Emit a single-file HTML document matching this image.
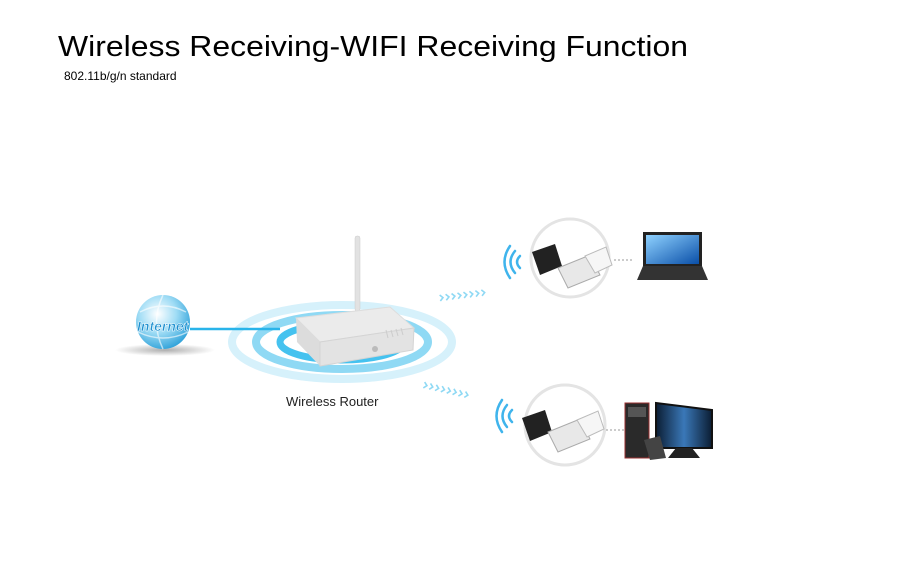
<!DOCTYPE html>
<html><head><meta charset="utf-8"><style>
html,body{margin:0;padding:0;background:#fff;width:900px;height:582px;overflow:hidden}
svg{display:block}
</style></head><body>
<svg width="900" height="582" viewBox="0 0 900 582" xmlns="http://www.w3.org/2000/svg" font-family="Liberation Sans, Arial, sans-serif">
<defs>
<radialGradient id="glob" cx="40%" cy="35%" r="70%"><stop offset="0" stop-color="#ffffff"/><stop offset="0.5" stop-color="#9fdcf5"/><stop offset="1" stop-color="#2a9fd8"/></radialGradient>
<linearGradient id="scr" x1="0" y1="0" x2="1" y2="1"><stop offset="0" stop-color="#8fd2ff"/><stop offset="1" stop-color="#0a4fa8"/></linearGradient>
<linearGradient id="mon" x1="0" y1="0" x2="1" y2="0"><stop offset="0" stop-color="#0b1d33"/><stop offset="0.5" stop-color="#3a78b8"/><stop offset="1" stop-color="#0b1d33"/></linearGradient>
<radialGradient id="shad" cx="50%" cy="50%" r="50%"><stop offset="0" stop-color="#777" stop-opacity=".6"/><stop offset="1" stop-color="#777" stop-opacity="0"/></radialGradient>
<g id="chev"><path d="M0 -3 L3 0 L0 3" fill="none" stroke="#8fd9f4" stroke-width="1.6"/></g>
</defs>
<text x="58" y="56" font-size="29" fill="#000" textLength="630" lengthAdjust="spacingAndGlyphs">Wireless Receiving-WIFI Receiving Function</text>
<text x="64" y="80" font-size="12" fill="#000">802.11b/g/n standard</text>

<ellipse cx="342" cy="342" rx="110" ry="37" fill="none" stroke="#d6f1fb" stroke-width="8"/>
<ellipse cx="342" cy="342" rx="86" ry="27" fill="none" stroke="#8fd9f4" stroke-width="8"/>
<ellipse cx="342" cy="342" rx="62" ry="18" fill="none" stroke="#45c2ef" stroke-width="7"/>
<ellipse cx="165" cy="350" rx="50" ry="6" fill="url(#shad)"/>
<circle cx="163" cy="322" r="27" fill="url(#glob)"/>
<path d="M140 312 Q163 300 186 312 M138 332 Q163 344 188 332 M163 295 Q150 322 163 349" fill="none" stroke="#fff" stroke-opacity=".6" stroke-width="1.5"/>
<text x="137" y="331" font-size="14" font-style="italic" font-weight="bold" fill="#1c8fcf" stroke="#fff" stroke-width=".5">Internet</text>
<line x1="190" y1="329" x2="280" y2="329" stroke="#29b4ea" stroke-width="2.5"/>
<rect x="355" y="236" width="5" height="75" rx="2" fill="#e2e2e2" stroke="#ccc" stroke-width=".5"/>
<polygon points="296,318 390,307 414,328 320,342" fill="#ebebeb" stroke="#ddd"/>
<polygon points="296,318 320,342 320,366 297,342" fill="#dcdcdc"/>
<polygon points="320,342 414,328 413,350 320,366" fill="#e3e3e3" stroke="#d4d4d4"/>
<circle cx="375" cy="349" r="3" fill="#bbb"/>
<g stroke="#ccc" stroke-width="1"><line x1="386" y1="330" x2="388" y2="338"/><line x1="391" y1="330" x2="393" y2="337"/><line x1="396" y1="329" x2="398" y2="336"/><line x1="401" y1="328" x2="403" y2="335"/></g>
<text x="286" y="406" font-size="13" fill="#222">Wireless Router</text>
<g transform="translate(440 298) rotate(-7)">
<use href="#chev" x="0"/><use href="#chev" x="6"/><use href="#chev" x="12"/><use href="#chev" x="18"/><use href="#chev" x="24"/><use href="#chev" x="30"/><use href="#chev" x="36"/><use href="#chev" x="42"/></g>
<g transform="translate(424 385) rotate(13)">
<use href="#chev" x="0"/><use href="#chev" x="6"/><use href="#chev" x="12"/><use href="#chev" x="18"/><use href="#chev" x="24"/><use href="#chev" x="30"/><use href="#chev" x="36"/><use href="#chev" x="42"/></g>
<circle cx="570" cy="258" r="39" fill="#fff" stroke="#e4e4e4" stroke-width="3"/>
<g fill="none" stroke="#3fb4ec" stroke-width="2.5" stroke-linecap="round">
<path d="M520 256 Q514 262 520 268"/><path d="M515 251 Q506 262 515 273"/><path d="M510 246 Q499 262 510 278"/></g>
<polygon points="532,252 555,244 562,266 540,275" fill="#222"/>
<polygon points="558,268 590,255 600,275 568,288" fill="#e8e8e8" stroke="#aaa"/>
<polygon points="585,256 606,247 612,265 595,273" fill="#f6f6f6" stroke="#bbb"/>
<line x1="614" y1="260" x2="632" y2="260" stroke="#999" stroke-dasharray="2 2"/>
<polygon points="643,232 702,232 702,266 643,266" fill="#222"/>
<rect x="646" y="235" width="53" height="29" fill="url(#scr)"/>
<polygon points="643,266 702,266 708,280 637,280" fill="#333"/>
<circle cx="565" cy="425" r="40" fill="#fff" stroke="#e4e4e4" stroke-width="3"/>
<g fill="none" stroke="#3fb4ec" stroke-width="2.5" stroke-linecap="round">
<path d="M512 410 Q506 416 512 422"/><path d="M507 405 Q498 416 507 427"/><path d="M502 400 Q491 416 502 432"/></g>
<polygon points="522,418 545,410 552,432 530,441" fill="#222"/>
<polygon points="548,432 580,419 590,439 558,452" fill="#e8e8e8" stroke="#aaa"/>
<polygon points="577,420 598,411 604,429 587,437" fill="#f6f6f6" stroke="#bbb"/>
<line x1="606" y1="430" x2="624" y2="430" stroke="#999" stroke-dasharray="2 2"/>
<rect x="625" y="403" width="24" height="55" fill="#2a2a2a" stroke="#9a3030"/>
<rect x="628" y="407" width="18" height="10" fill="#555"/>
<polygon points="656,403 712,410 712,448 656,448" fill="url(#mon)" stroke="#111" stroke-width="2"/>
<polygon points="676,448 692,448 700,458 668,458" fill="#222"/>
<polygon points="644,440 660,436 666,458 650,460" fill="#444"/>
</svg>
</body></html>
